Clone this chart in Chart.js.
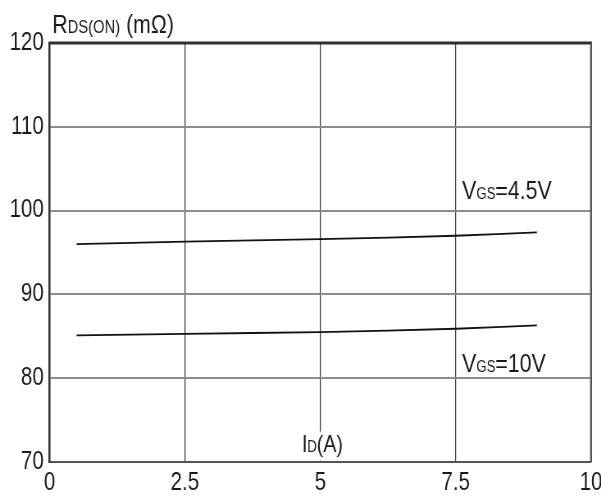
<!DOCTYPE html>
<html>
<head>
<meta charset="utf-8">
<script src="https://cdn.jsdelivr.net/npm/chart.js@4"></script>
<style>
html,body{margin:0;padding:0;background:#fff;}
#wrap{width:601px;height:497px;position:relative;overflow:hidden;}
#c{position:absolute;left:0;top:0;transform:scaleX(0.82);transform-origin:0 0;}
</style>
</head>
<body>
<div id="wrap"><canvas id="c" width="733" height="497"></canvas></div>
<script>
// ---- data ----
const currentA = [0.5, 2.5, 5, 7.5, 9];
const rdsVgs45 = [96.0, 96.3, 96.6, 97.0, 97.4];
const rdsVgs10 = [85.1, 85.3, 85.5, 85.9, 86.3];
const xTicks = [0, 2.5, 5, 7.5, 10];
const yTicks = [70, 80, 90, 100, 110, 120];

// canvas is drawn wide and squeezed horizontally (narrow-font look)
const SX = 0.82;
const FONT = "'Liberation Sans', Arial, sans-serif";
const TEXT = '#1a1a1a';

// text annotations: segments of [text, fontSize]
const notes = [
  {x: 7.62, y: 101.4, segs: [['V', 26], ['GS', 16], ['=4.5V', 26]]},
  {x: 7.62, y: 80.74, segs: [['V', 26], ['GS', 16], ['=10V', 26]]},
  {x: 4.66, y: 71.23, segs: [['I', 24], ['D', 16], ['(A)', 24]], bg: true},
  {x: 0.05, y: 121.2, segs: [['R', 26], ['DS(ON)', 18], [' (mΩ)', 26]]}
];

const toPts = (xs, ys) => xs.map((x, i) => ({x: x, y: ys[i]}));

const decor = {
  id: 'decor',
  afterDraw(chart) {
    const {ctx, chartArea: a, scales} = chart;
    ctx.save();
    // top border
    ctx.strokeStyle = '#2e2e2e';
    ctx.lineWidth = 3;
    ctx.beginPath();
    ctx.moveTo(a.left - 1, a.top);
    ctx.lineTo(a.right + 1, a.top);
    ctx.stroke();
    // right border
    ctx.strokeStyle = '#555';
    ctx.lineWidth = 2.4;
    ctx.beginPath();
    ctx.moveTo(a.right, a.top);
    ctx.lineTo(a.right, a.bottom);
    ctx.stroke();
    // texts
    ctx.fillStyle = TEXT;
    ctx.textBaseline = 'alphabetic';
    ctx.textAlign = 'left';
    notes.forEach(n => {
      let px = scales.x.getPixelForValue(n.x);
      const py = scales.y.getPixelForValue(n.y);
      let w = 0;
      n.segs.forEach(s => { ctx.font = s[1] + 'px ' + FONT; w += ctx.measureText(s[0]).width; });
      if (n.bg) {
        ctx.fillStyle = '#fff';
        ctx.fillRect(px - 4, py - 20, w + 8, a.bottom - (py - 20) - 1.5);
        ctx.fillStyle = TEXT;
      }
      n.segs.forEach(s => {
        ctx.font = s[1] + 'px ' + FONT;
        ctx.fillText(s[0], px, py);
        px += ctx.measureText(s[0]).width;
      });
    });
    ctx.restore();
  }
};

new Chart(document.getElementById('c'), {
  type: 'line',
  data: {
    datasets: [
      {label: 'VGS=4.5V', data: toPts(currentA, rdsVgs45), borderColor: '#111', borderWidth: 1.8, pointRadius: 0, tension: 0.3, fill: false},
      {label: 'VGS=10V', data: toPts(currentA, rdsVgs10), borderColor: '#111', borderWidth: 1.8, pointRadius: 0, tension: 0.3, fill: false}
    ]
  },
  options: {
    responsive: false,
    animation: false,
    events: [],
    layout: {padding: {top: 43, right: 10 / SX, left: 0, bottom: 0}},
    plugins: {legend: {display: false}, tooltip: {enabled: false}, title: {display: false}},
    scales: {
      x: {
        type: 'linear', min: 0, max: 10,
        afterBuildTicks: s => { s.ticks = xTicks.map(v => ({value: v})); },
        afterFit: s => { s.height = 35; s.paddingLeft = 0; s.paddingRight = 0; },
        grid: {color: '#3a3a3a', lineWidth: 1.25, drawTicks: false},
        border: {display: true, color: '#555', width: 2},
        ticks: {font: {family: FONT, size: 25}, color: TEXT, padding: 6, maxRotation: 0, autoSkip: false,
                 callback: v => String(v)}
      },
      y: {
        type: 'linear', min: 70, max: 120,
        afterBuildTicks: s => { s.ticks = yTicks.map(v => ({value: v})); },
        afterFit: s => { s.width = 49.5 / SX; s.paddingTop = 0; s.paddingBottom = 0; },
        grid: {color: '#8c8c8c', lineWidth: 2, drawTicks: false},
        border: {display: true, color: '#333', width: 2.4},
        ticks: {font: {family: FONT, size: 25}, color: TEXT, padding: 7, callback: v => String(v)}
      }
    }
  },
  plugins: [decor]
});
</script>
</body>
</html>
